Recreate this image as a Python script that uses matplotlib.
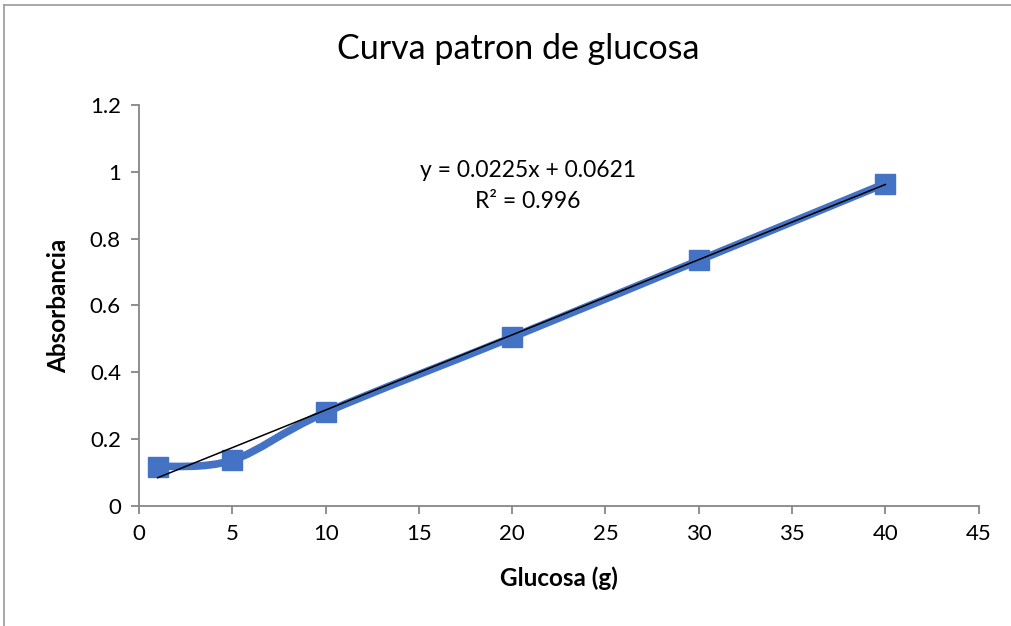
import matplotlib
matplotlib.use('Agg')
import matplotlib.pyplot as plt
from matplotlib.path import Path
import matplotlib.patches as mpatches

glucosa = [1, 5, 10, 20, 30, 40]
absorbancia = [0.118, 0.137, 0.28, 0.505, 0.735, 0.965]
slope = 0.0225
intercept = 0.0621
r2 = 0.996

plt.rcParams['font.family'] = ['Lato', 'DejaVu Sans']
blue = '#4472C4'
gray = '#868686'

fig = plt.figure(figsize=(10.11, 6.26), dpi=100)
ax = fig.add_axes([0.1375, 0.1917, 0.8305, 0.6406])

# smoothed line like excel (catmull-rom -> bezier segments)
verts = [(glucosa[0], absorbancia[0])]
codes = [Path.MOVETO]
n = len(glucosa)
for i in range(n - 1):
    p0 = (glucosa[max(i - 1, 0)], absorbancia[max(i - 1, 0)])
    p1 = (glucosa[i], absorbancia[i])
    p2 = (glucosa[i + 1], absorbancia[i + 1])
    p3 = (glucosa[min(i + 2, n - 1)], absorbancia[min(i + 2, n - 1)])
    c1 = (p1[0] + (p2[0] - p0[0]) / 6, p1[1] + (p2[1] - p0[1]) / 6)
    c2 = (p2[0] - (p3[0] - p1[0]) / 6, p2[1] - (p3[1] - p1[1]) / 6)
    verts += [c1, c2, p2]
    codes += [Path.CURVE4] * 3
ax.add_patch(mpatches.PathPatch(Path(verts, codes), fill=False, edgecolor=blue,
                                linewidth=5.5, capstyle='round', zorder=2))
ax.plot(glucosa, absorbancia, linestyle='none', marker='s', markersize=14,
        color=blue, zorder=3)

# trendline
tx = [glucosa[0], glucosa[-1]]
ax.plot(tx, [slope * x + intercept for x in tx], color='black', linewidth=1.1, zorder=4)

ax.text(20.85, 1.005, 'y = %.4fx + %.4f' % (slope, intercept), ha='center', va='center', fontsize=16.5)
ax.text(20.85, 0.912, 'R² = %.3f' % r2, ha='center', va='center', fontsize=16.5)

ax.set_xlim(0, 45)
ax.set_ylim(0, 1.2)
ax.set_xticks(range(0, 46, 5))
ax.set_yticks([0, 0.2, 0.4, 0.6, 0.8, 1.0, 1.2])
ax.set_yticklabels(['0', '0.2', '0.4', '0.6', '0.8', '1', '1.2'])
for s in ['top', 'right']:
    ax.spines[s].set_visible(False)
for s in ['left', 'bottom']:
    ax.spines[s].set_color(gray)
    ax.spines[s].set_linewidth(1.3)
ax.tick_params(axis='both', direction='out', length=6, width=1.3, color=gray,
               labelsize=16, pad=7)

ax.set_xlabel('Glucosa (g)', fontsize=17.5, fontweight='bold', labelpad=16)
ax.set_ylabel('Absorbancia', fontsize=17.5, fontweight='bold', labelpad=14)
fig.text(0.513, 0.921, 'Curva patron de glucosa', ha='center', va='center', fontsize=24.5)

# chart border (cropped)
fig.add_artist(plt.Line2D([0.004, 1], [0.992, 0.992], color='#999999', linewidth=1.2))
fig.add_artist(plt.Line2D([0.004, 0.004], [0, 0.992], color='#999999', linewidth=1.2))

plt.savefig('out.png', dpi=100)
